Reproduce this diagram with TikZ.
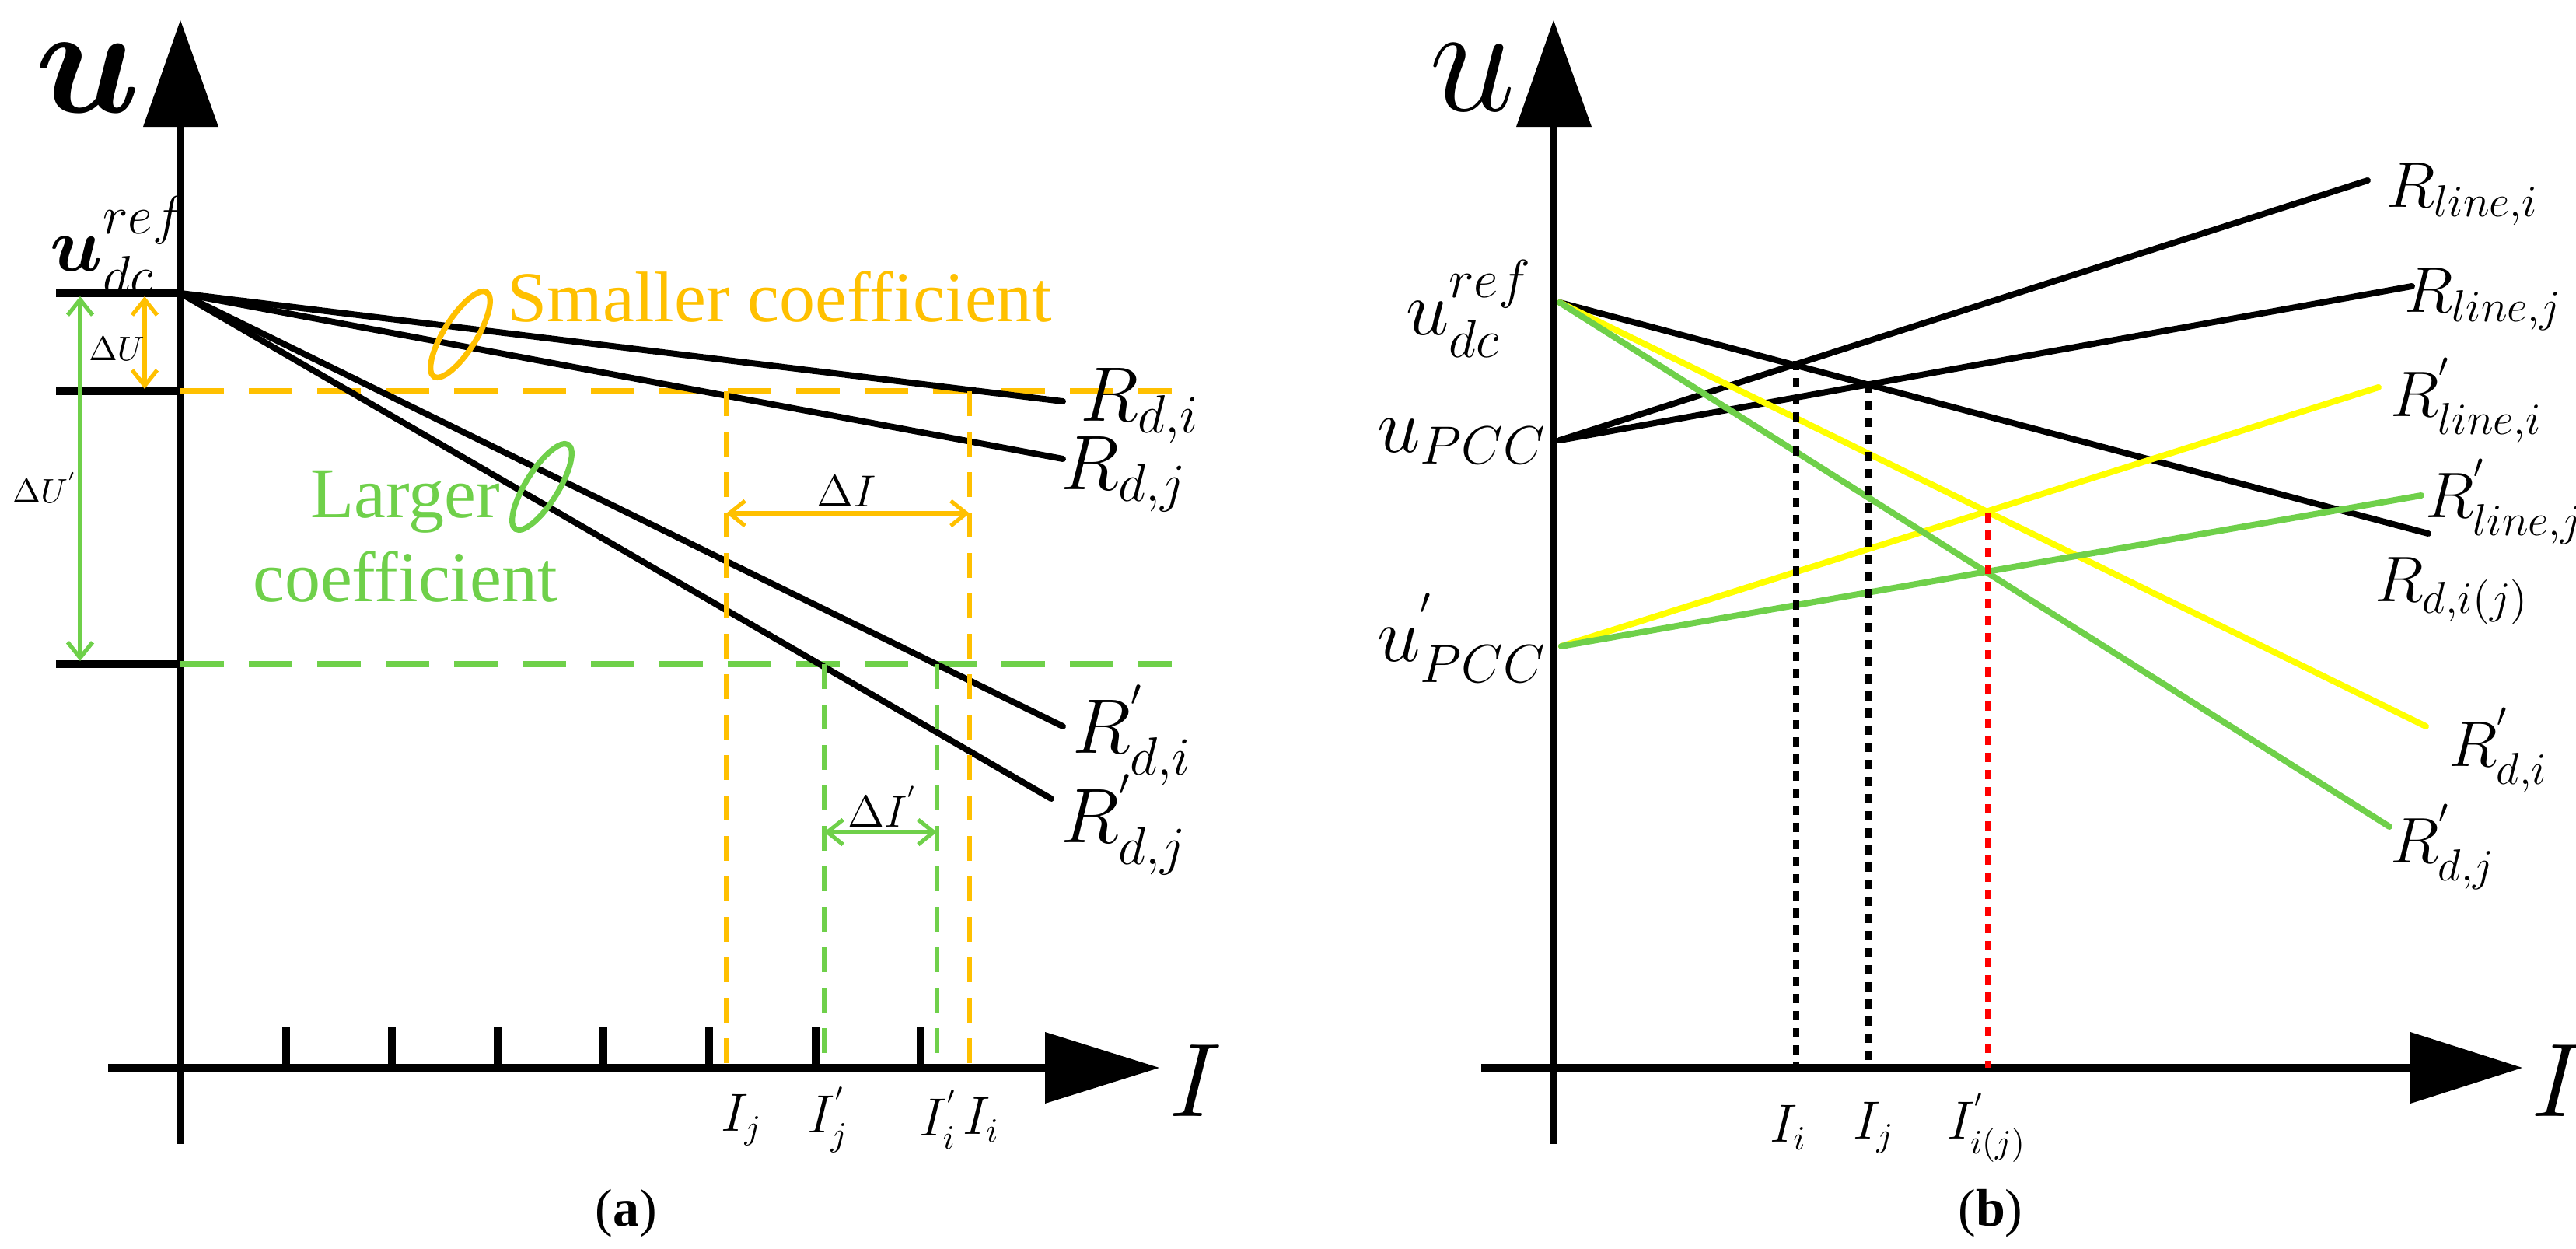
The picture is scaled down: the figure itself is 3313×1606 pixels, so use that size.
\documentclass[tikz,border=0pt]{standalone}
\usepackage{amsmath}
\usepackage{graphicx}
\usepackage{fontspec}
\setmainfont{Liberation Serif}
\usetikzlibrary{arrows.meta}
\definecolor{org}{HTML}{FFC000}
\definecolor{grn}{HTML}{6FD04A}
\definecolor{yel}{HTML}{FFFF00}
\definecolor{red1}{HTML}{FF0000}
\begin{document}
\begin{tikzpicture}[x=0.25pt,y=-0.25pt,
  axis/.style={line width=2.6pt},
  blk/.style={line width=2pt,line cap=round},
  dsh/.style={line width=1.8pt,dash pattern=on 14pt off 8pt},
  dshv/.style={line width=1.3pt,dash pattern=on 8pt off 5pt},
  dot/.style={line width=2pt,dash pattern=on 3pt off 2.5pt},
  dim/.style={line width=1.3pt,{Straight Barb[length=5pt,width=8pt]}-{Straight Barb[length=5pt,width=8pt]}},
  big/.style={font=\fontsize{24}{28}\selectfont},
  rb/.style={font=\fontsize{21}{25}\selectfont},
  sml/.style={font=\fontsize{16}{19}\selectfont},
  huge/.style={font=\fontsize{24}{28}\selectfont},
  txt/.style={font=\fontsize{23}{27}\selectfont}]
\useasboundingbox (0,0) rectangle (3313,1606);
% ================= panel a
\coordinate (ay0) at (232,1471); \coordinate (ayb) at (232,163);
\coordinate (ax0) at (139,1373); \coordinate (axb) at (1344,1373);
\draw[axis] (ay0) -- (ayb); \draw[axis] (ax0) -- (axb);
\fill (184,163) -- (232,26) -- (281,163) -- cycle;
\fill (1344,1327) -- (1491,1373) -- (1344,1419) -- cycle;
\foreach \x in {368,504,640,776,912,1049,1184} \draw[axis] (\x,1373) -- (\x,1321);
\coordinate (O) at (232,377);
\coordinate (l1) at (232,503); \coordinate (l2) at (232,854);
\draw[axis] (72,377) -- (O); \draw[axis] (72,503) -- (l1); \draw[axis] (72,854) -- (l2);
\coordinate (ae1) at (1507,503); \coordinate (ae2) at (1507,854);
\draw[dsh,org] (l1) -- (ae1);
\draw[dsh,grn] (l2) -- (ae2);
\coordinate (a1) at (1367,516); \coordinate (a2) at (1367,590);
\coordinate (a3) at (1367,934); \coordinate (a4) at (1352,1027);
\draw[blk] (O) -- (a1); \draw[blk] (O) -- (a2); \draw[blk] (O) -- (a3); \draw[blk] (O) -- (a4);
\coordinate (v1t) at (934,503); \coordinate (v1b) at (934,1373);
\coordinate (v2t) at (1247,503); \coordinate (v2b) at (1247,1373);
\coordinate (v3t) at (1060,854); \coordinate (v3b) at (1060,1373);
\coordinate (v4t) at (1205,854); \coordinate (v4b) at (1205,1373);
\draw[dshv,org] (v1t) -- (v1b); \draw[dshv,org] (v2t) -- (v2b);
\draw[dshv,grn] (v3t) -- (v3b); \draw[dshv,grn] (v4t) -- (v4b);
\coordinate (d1a) at (934,660); \coordinate (d1b) at (1247,660);
\draw[dim,org] (d1a) -- (d1b);
\coordinate (d2a) at (1060,1070); \coordinate (d2b) at (1205,1070);
\draw[dim,grn] (d2a) -- (d2b);
\coordinate (du1) at (186,381); \coordinate (du2) at (186,500);
\draw[dim,org] (du1) -- (du2);
\coordinate (du3) at (103,381); \coordinate (du4) at (103,850);
\draw[dim,grn] (du3) -- (du4);
\node[font=\fontsize{11}{13}\selectfont] (tdu) at (150,449) {$\Delta U$};
\node[font=\fontsize{11}{13}\selectfont] (tdu2) at (58,627) {$\Delta U^{'}$};
\node[font=\fontsize{15}{18}\selectfont] (tdi) at (1089,632) {$\Delta I$};
\node[font=\fontsize{15}{18}\selectfont] (tdi2) at (1135,1037) {$\Delta I^{'}$};
\draw[org,line width=1.8pt] (592,430) ellipse[x radius=21,y radius=64,rotate=-32];
\draw[grn,line width=1.8pt] (697,626) ellipse[x radius=21,y radius=64,rotate=-32];
\node[txt,org] (tsc) at (1003,382) {Smaller coefficient};
\node[txt,grn,align=center] (tlc) at (521,690) {Larger\\coefficient};
\node[big,anchor=west] (ra1) at (1375,522) {$R_{d,i}$};
\node[big,anchor=west] (ra2) at (1350,610) {$R_{d,j}$};
\node[big,anchor=west] (ra3) at (1365,945) {$R^{'}_{d,i}$};
\node[big,anchor=west] (ra4) at (1350,1060) {$R^{'}_{d,j}$};
\node[huge] (ua) at (113,100) {\scalebox{2}{$\boldsymbol{u}$}};
\node[font=\fontsize{24}{28}\selectfont] (uref) at (152,315) {$\boldsymbol{u}^{ref}_{dc}$};
\node[sml] (i1) at (954,1440) {$I_j$};
\node[sml] (i2) at (1065,1440) {$I^{'}_j$};
\node[sml] (i3) at (1207,1440) {$I^{'}_i$};
\node[sml] (i4) at (1262,1440) {$I_i$};
\node[font=\fontsize{24}{28}\selectfont] (Ia) at (1538,1390) {\scalebox{1.35}{$I$}};
\node[font=\fontsize{17}{20}\selectfont] (cap1) at (805,1560) {(\textbf{a})};
% ================= panel b
\coordinate (by0) at (1998,1471); \coordinate (byb) at (1998,163);
\coordinate (bx0) at (1905,1373); \coordinate (bxb) at (3100,1373);
\draw[axis] (by0) -- (byb); \draw[axis] (bx0) -- (bxb);
\fill (1950,163) -- (1998,26) -- (2047,163) -- cycle;
\fill (3100,1327) -- (3244,1373) -- (3100,1419) -- cycle;
\coordinate (P0) at (2006,389); \coordinate (P1) at (2006,566); \coordinate (P2) at (2008,831);
\coordinate (b1) at (3045,232); \coordinate (b2) at (3102,368);
\coordinate (b3) at (3059,498); \coordinate (b4) at (3114,637);
\coordinate (b5) at (3123,686); \coordinate (b6) at (3120,934); \coordinate (b7) at (3073,1063);
\draw[blk] (P1) -- (b1); \draw[blk] (P1) -- (b2);
\draw[blk] (P0) -- (b5);
\draw[blk,yel] (P2) -- (b3); \draw[blk,yel] (P0) -- (b6);
\draw[blk,grn] (P2) -- (b4); \draw[blk,grn] (P0) -- (b7);
\coordinate (c1t) at (2310,464); \coordinate (c1b) at (2310,1373);
\coordinate (c2t) at (2403,493); \coordinate (c2b) at (2403,1373);
\coordinate (c3t) at (2557,660); \coordinate (c3b) at (2557,1373);
\draw[dot] (c1t) -- (c1b); \draw[dot] (c2t) -- (c2b); \draw[dot,red1] (c3t) -- (c3b);
\node[rb,anchor=west] (rb1) at (3055,250) {$R_{line,i}$};
\node[rb,anchor=west] (rb2) at (3078,385) {$R_{line,j}$};
\node[rb,anchor=west] (rb3) at (3060,515) {$R^{'}_{line,i}$};
\node[rb,anchor=west] (rb4) at (3105,645) {$R^{'}_{line,j}$};
\node[rb,anchor=west] (rb5) at (3040,760) {$R_{d,i(j)}$};
\node[rb,anchor=west] (rb6) at (3135,965) {$R^{'}_{d,i}$};
\node[rb,anchor=west] (rb7) at (3060,1089) {$R^{'}_{d,j}$};
\node[huge] (ub) at (1894,100) {\scalebox{2}{$u$}};
\node[font=\fontsize{24}{28}\selectfont] (urefb) at (1889,397) {$u^{ref}_{dc}$};
\node[font=\fontsize{24}{28}\selectfont] (upcc) at (1880,568) {$u_{PCC}$};
\node[font=\fontsize{24}{28}\selectfont] (upcc2) at (1880,820) {$u^{'}_{PCC}$};
\node[sml] (j1) at (2300,1450) {$I_i$};
\node[sml] (j2) at (2410,1450) {$I_j$};
\node[sml] (j3) at (2555,1450) {$I^{'}_{i(j)}$};
\node[font=\fontsize{24}{28}\selectfont] (Ib) at (3290,1390) {\scalebox{1.35}{$I$}};
\node[font=\fontsize{17}{20}\selectfont] (cap2) at (2560,1560) {(\textbf{b})};
\end{tikzpicture}
\end{document}
